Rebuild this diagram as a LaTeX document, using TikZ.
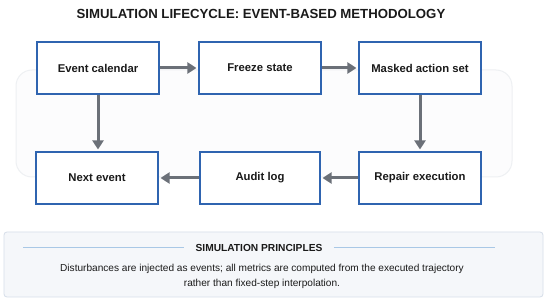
\documentclass[tikz,border=0pt]{standalone}
\usepackage{fontspec}
\setmainfont{Liberation Sans}
\usetikzlibrary{arrows.meta}
\definecolor{boxblue}{HTML}{2F64B0}
\definecolor{arrowgray}{HTML}{6B7078}
\definecolor{sepblue}{HTML}{A9C8E6}
\definecolor{panelfill}{HTML}{F5F7FA}
\definecolor{panelline}{HTML}{D6DEE9}
\definecolor{bgfill}{HTML}{FCFCFD}
\definecolor{bgline}{HTML}{EEF0F3}
\definecolor{txt}{HTML}{1A1A1A}
\tikzset{
  stepbox/.style={draw=boxblue, line width=1.1pt, fill=white, minimum width=122pt, minimum height=52pt, inner sep=0pt, font=\fontsize{11.3}{13}\selectfont\bfseries, text=txt},
  flow/.style={draw=arrowgray, line width=3pt, -{Triangle[length=9pt,width=11pt]}, shorten >=2pt},
}
\begin{document}
\begin{tikzpicture}[x=1pt,y=-1pt]
\useasboundingbox (0,0) rectangle (550,302);
\fill[white] (0,0) rectangle (550,302);
% background loop
\draw[bgline, fill=bgfill, line width=1pt, rounded corners=16pt] (16,70) rectangle (512,177);
% title
\node[font=\fontsize{13.2}{15}\selectfont\bfseries, text=txt] (title) at (261,14) {SIMULATION LIFECYCLE: EVENT-BASED METHODOLOGY};
% boxes
\node[stepbox] (ec) at (98,68) {Event calendar};
\node[stepbox] (fs) at (260,68) {Freeze state};
\node[stepbox] (ma) at (420,68) {Masked action set};
\node[stepbox] (ne) at (97,178) {Next event};
\node[stepbox, minimum width=120pt] (al) at (260,178) {Audit log};
\node[stepbox] (re) at (420,178) {Repair execution};
% arrows
\draw[flow] (ec) -- (fs);
\draw[flow] (fs) -- (ma);
\draw[flow] (ma) -- (re);
\draw[flow] (re) -- (al);
\draw[flow] (al) -- (ne);
\draw[flow] (ec.south) -- (ec.south |- ne.north);
% principles panel
\draw[panelline, fill=panelfill, line width=0.8pt, rounded corners=3pt] (4,232) rectangle (543,297);
\node[font=\fontsize{10.2}{12}\selectfont\bfseries, text=txt] (ph) at (259,248) {SIMULATION PRINCIPLES};
\coordinate (l1) at (23,248);
\coordinate (r1) at (495,248);
\draw[sepblue, line width=1pt] (l1) -- ([xshift=-8pt]ph.west);
\draw[sepblue, line width=1pt] ([xshift=8pt]ph.east) -- (r1);
\node[font=\fontsize{10.1}{15}\selectfont, text=txt, align=center] (pt) at (262,276) {Disturbances are injected as events; all metrics are computed from the executed trajectory\\rather than fixed-step interpolation.};
\end{tikzpicture}
\end{document}
